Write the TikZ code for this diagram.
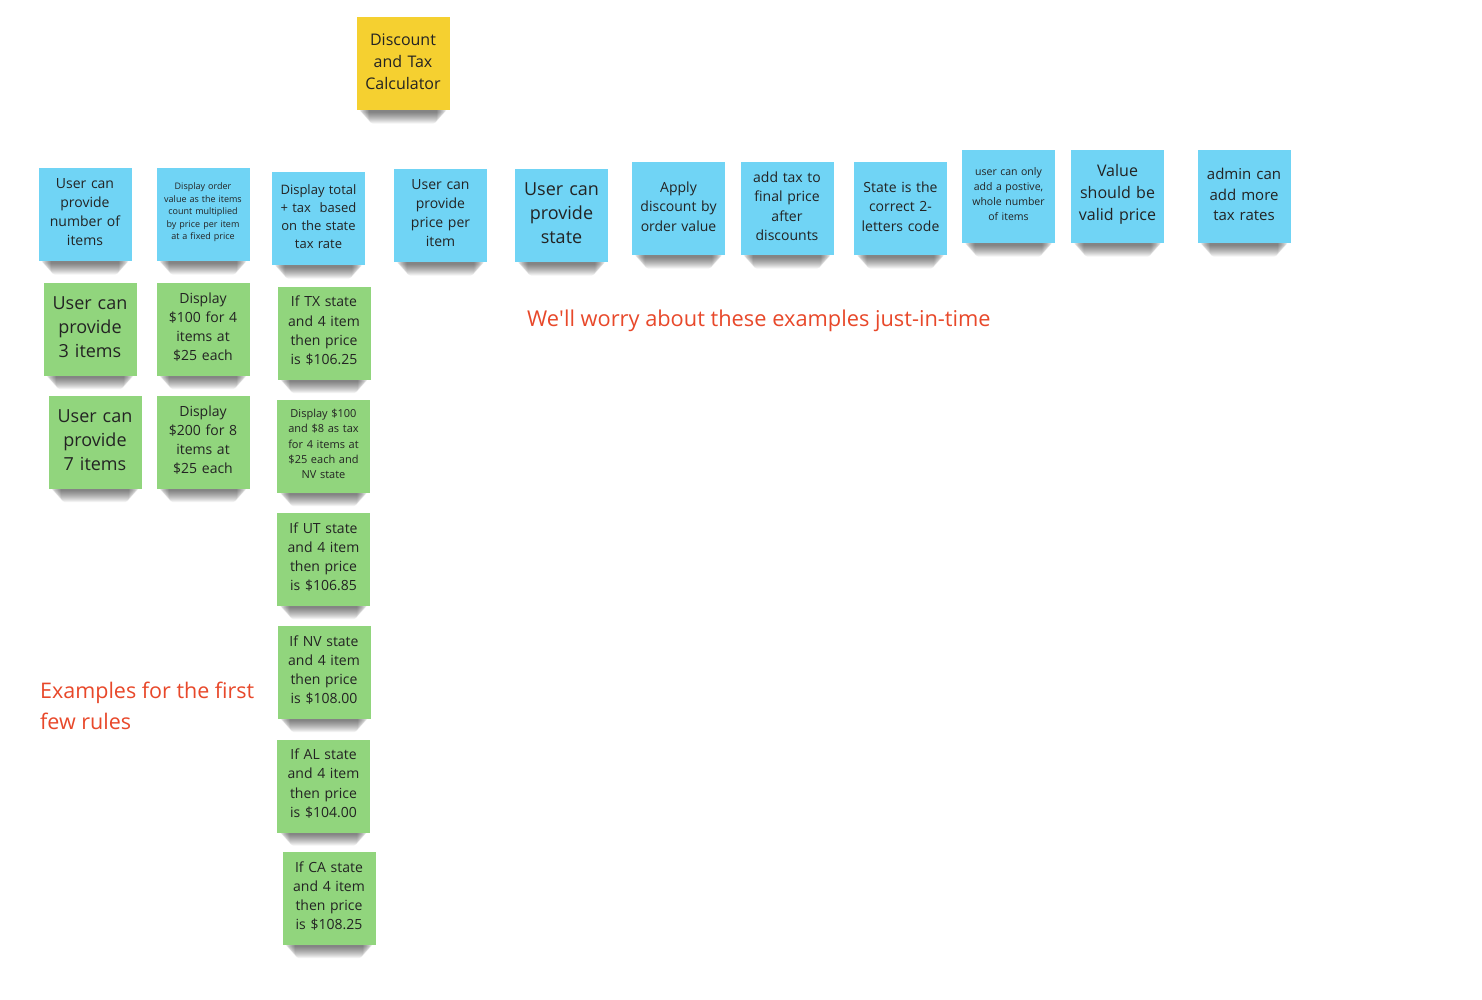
\documentclass[tikz,border=0pt]{standalone}
\usepackage{fontspec}
\setmainfont{Open Sans}
\usetikzlibrary{backgrounds,calc}
\definecolor{noteblue}{RGB}{112,212,245}
\definecolor{notegreen}{RGB}{145,213,125}
\definecolor{noteyellow}{RGB}{245,208,48}
\definecolor{notered}{RGB}{232,72,42}
\definecolor{notetext}{RGB}{35,35,35}
\newcommand{\fs}[2]{\fontsize{#1}{#2}\selectfont}
\newcommand{\sq}{{\addfontfeature{Ligatures=TeXOff}'}}
\tikzset{
  note/.style={minimum width=93pt, minimum height=93pt, inner sep=2pt, text width=86pt,
    align=center, text=notetext,
    execute at end node={\par\vspace*{5pt}}},
  bnote/.style={note, fill=noteblue},
  gnote/.style={note, fill=notegreen},
  ynote/.style={note, fill=noteyellow},
  shadowpiece/.style={fill=black, fill opacity=0.05, rounded corners=4pt},
  redlabel/.style={text=notered, inner sep=0pt, align=left}
}
\begin{document}
\begin{tikzpicture}[x=1pt,y=-1pt]
\useasboundingbox (0,0) rectangle (1482,1000);

\node[ynote, font=\fs{16}{22}] (title) at (403,64) {Discount\\and Tax\\Calculator};

% blue row
\node[bnote, font=\fs{14}{19}] (b1) at (85,215) {User can\\provide\\number of\\items};
\node[bnote, font=\fs{9}{12.5}] (b2) at (203,215) {Display order\\value as the items\\count multiplied\\by price per item\\at a fixed price};
\node[bnote, font=\fs{13}{18}] (b3) at (318.5,219) {Display total\\+ tax\ \ based\\on the state\\tax rate};
\node[bnote, font=\fs{14}{19}] (b4) at (440.5,216) {User can\\provide\\price per\\item};
\node[bnote, font=\fs{18}{24}] (b5) at (561.5,216) {User can\\provide\\state};
\node[bnote, font=\fs{14}{19.5}] (b6) at (678.5,209) {Apply\\discount by\\order value};
\node[bnote, font=\fs{14}{19.5}] (b7) at (787,209) {add tax to\\final price\\after\\discounts};
\node[bnote, font=\fs{14}{19.5}] (b8) at (900.5,209) {State is the\\correct 2-\\letters code};
\node[bnote, font=\fs{10.5}{15}] (b9) at (1008.5,197) {user can only\\add a postive,\\whole number\\of items};
\node[bnote, font=\fs{16}{22}] (b10) at (1117.5,197) {Value\\should be\\valid price};
\node[bnote, font=\fs{15}{20.5}] (b11) at (1244,197) {admin can\\add more\\tax rates};

% green column 1
\node[gnote, font=\fs{18}{24}] (g11) at (90,329.5) {User can\\provide\\3 items};
\node[gnote, font=\fs{18}{24}] (g12) at (95,442.5) {User can\\provide\\7 items};

% green column 2
\node[gnote, font=\fs{14}{19}] (g21) at (203,329.5) {Display\\\$100 for 4\\items at\\\$25 each};
\node[gnote, font=\fs{14}{19}] (g22) at (203,442.5) {Display\\\$200 for 8\\items at\\\$25 each};

% green column 3
\node[gnote, font=\fs{14}{19.3}] (g31) at (324,333.5) {If TX state\\and 4 item\\then price\\is \$106.25};
\node[gnote, font=\fs{11}{15.2}] (g32) at (323.5,446.5) {Display \$100\\and \$8 as tax\\for 4 items at\\\$25 each and\\NV state};
\node[gnote, font=\fs{14}{19.3}] (g33) at (323.5,559.5) {If UT state\\and 4 item\\then price\\is \$106.85};
\node[gnote, font=\fs{14}{19.3}] (g34) at (324,672.5) {If NV state\\and 4 item\\then price\\is \$108.00};
\node[gnote, font=\fs{14}{19.3}] (g35) at (323.5,786) {If AL state\\and 4 item\\then price\\is \$104.00};
\node[gnote, font=\fs{14}{19.3}] (g36) at (329,898.5) {If CA state\\and 4 item\\then price\\is \$108.25};

% labels
\node[redlabel, font=\fs{21.8}{31}, anchor=west] (l1) at (527,321) {We\sq ll worry about these examples just-in-time};
\node[redlabel, font=\fs{21.5}{31}, anchor=north west] (l2) at (40,682) {Examples for the first\\few rules};

% soft shadows under the notes
\begin{pgfonlayer}{background}
\fill[white] (0,0) rectangle (1482,1000);
\foreach \n in {title,b1,b2,b3,b4,b5,b6,b7,b8,b9,b10,b11,g11,g12,g21,g22,g31,g32,g33,g34,g35,g36}{
  \foreach \i in {1,...,12}{
    \fill[shadowpiece] ($(\n.south west)+(2+0.9*\i,-5)$) rectangle ($(\n.south east)+(-2-0.9*\i,1+\i)$);
  }
}
\end{pgfonlayer}
\end{tikzpicture}
\end{document}
